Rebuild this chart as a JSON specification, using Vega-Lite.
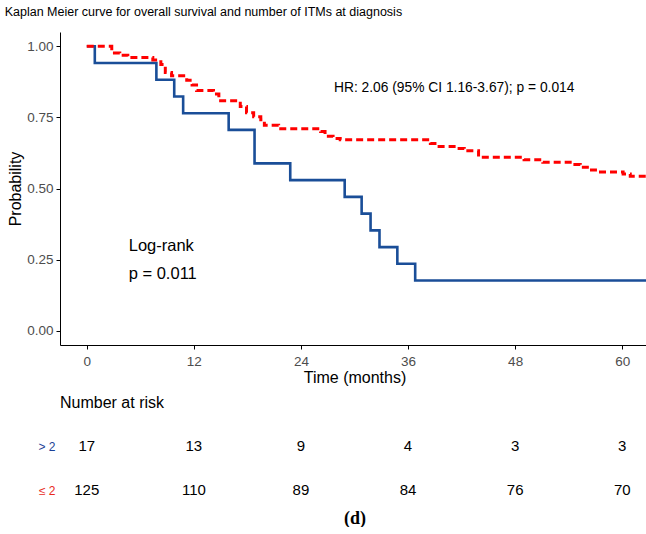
{
  "$schema": "https://vega.github.io/schema/vega-lite/v6.json",
  "background": "white",
  "padding": {"left": 4, "top": 5, "right": 0, "bottom": 0},
  "config": {
    "font": "Liberation Sans",
    "view": {"stroke": null},
    "concat": {"spacing": 79}
  },
  "title": {
    "text": "Kaplan Meier curve for overall survival and number of ITMs at diagnosis",
    "anchor": "start",
    "frame": "bounds",
    "fontSize": 12.5,
    "fontWeight": "normal",
    "color": "black",
    "offset": 14,
    "dx": -3
  },
  "datasets": {
    "km_gt2": [
      {"time": 0, "surv": 1.0},
      {"time": 0.9, "surv": 0.9412},
      {"time": 7.8, "surv": 0.8824},
      {"time": 9.8, "surv": 0.8235},
      {"time": 10.8, "surv": 0.7647},
      {"time": 15.9, "surv": 0.7059},
      {"time": 18.8, "surv": 0.5882},
      {"time": 22.8, "surv": 0.5294},
      {"time": 28.9, "surv": 0.4706},
      {"time": 30.8, "surv": 0.4118},
      {"time": 31.8, "surv": 0.3529},
      {"time": 32.8, "surv": 0.2941},
      {"time": 34.8, "surv": 0.2353},
      {"time": 36.8, "surv": 0.1765},
      {"time": 64, "surv": 0.1765}
    ],
    "km_le2": [
      {"time": 0, "surv": 1.0},
      {"time": 2.8, "surv": 0.976},
      {"time": 3.7, "surv": 0.968},
      {"time": 4.6, "surv": 0.96},
      {"time": 7.4, "surv": 0.952},
      {"time": 8.3, "surv": 0.936},
      {"time": 8.8, "surv": 0.908},
      {"time": 9.5, "surv": 0.896},
      {"time": 11.2, "surv": 0.88},
      {"time": 11.8, "surv": 0.864},
      {"time": 12.3, "surv": 0.844},
      {"time": 14.2, "surv": 0.832},
      {"time": 14.8, "surv": 0.808},
      {"time": 17.2, "surv": 0.788},
      {"time": 17.9, "surv": 0.766},
      {"time": 18.7, "surv": 0.752},
      {"time": 19.5, "surv": 0.742},
      {"time": 19.9, "surv": 0.722},
      {"time": 21.5, "surv": 0.71},
      {"time": 26.2, "surv": 0.7},
      {"time": 26.7, "surv": 0.684},
      {"time": 27.6, "surv": 0.676},
      {"time": 28.4, "surv": 0.671},
      {"time": 38.5, "surv": 0.658},
      {"time": 39.3, "surv": 0.648},
      {"time": 41.5, "surv": 0.641},
      {"time": 42.3, "surv": 0.633},
      {"time": 43.9, "surv": 0.61},
      {"time": 49.0, "surv": 0.601},
      {"time": 51.1, "surv": 0.592},
      {"time": 54.4, "surv": 0.584},
      {"time": 55.3, "surv": 0.575},
      {"time": 56.3, "surv": 0.565},
      {"time": 57.0, "surv": 0.558},
      {"time": 60.1, "surv": 0.551},
      {"time": 60.9, "surv": 0.543},
      {"time": 64, "surv": 0.543}
    ],
    "at_risk": [
      {"group": "> 2", "time": 0, "n": 17},
      {"group": "> 2", "time": 12, "n": 13},
      {"group": "> 2", "time": 24, "n": 9},
      {"group": "> 2", "time": 36, "n": 4},
      {"group": "> 2", "time": 48, "n": 3},
      {"group": "> 2", "time": 60, "n": 3},
      {"group": "≤ 2", "time": 0, "n": 125},
      {"group": "≤ 2", "time": 12, "n": 110},
      {"group": "≤ 2", "time": 24, "n": 89},
      {"group": "≤ 2", "time": 36, "n": 84},
      {"group": "≤ 2", "time": 48, "n": 76},
      {"group": "≤ 2", "time": 60, "n": 70}
    ],
    "notes": [
      {"time": 27.7, "surv": 0.852, "label": "HR: 2.06 (95% CI 1.16-3.67); p = 0.014", "kind": "hr"},
      {"time": 4.7, "surv": 0.298, "label": "Log-rank", "kind": "test"},
      {"time": 4.7, "surv": 0.2, "label": "p = 0.011", "kind": "test"}
    ]
  },
  "vconcat": [
    {
      "width": 589,
      "height": 313,
      "layer": [
        {
          "data": {"name": "km_gt2"},
          "mark": {"type": "line", "interpolate": "step-after", "clip": true, "color": "#1A4E98", "strokeWidth": 2.6},
          "encoding": {
            "x": {
              "field": "time", "type": "quantitative",
              "scale": {"domain": [-3, 63], "nice": false, "zero": false},
              "axis": {
                "values": [0, 12, 24, 36, 48, 60],
                "grid": false,
                "domainColor": "black",
                "tickColor": "black",
                "tickSize": 4,
                "labelColor": "#4D4D4D",
                "labelFontSize": 13.5,
                "labelPadding": 5,
                "title": "Time (months)",
                "titleFontSize": 16,
                "titleFontWeight": "normal",
                "titleColor": "black",
                "titlePadding": 2
              }
            },
            "y": {
              "field": "surv", "type": "quantitative",
              "scale": {"domain": [-0.05, 1.05], "nice": false, "zero": false},
              "axis": {
                "values": [0, 0.25, 0.5, 0.75, 1],
                "format": ".2f",
                "grid": false,
                "domainColor": "black",
                "tickColor": "black",
                "tickSize": 4,
                "labelColor": "#4D4D4D",
                "labelFontSize": 13.5,
                "labelPadding": 3,
                "title": "Probability",
                "titleFontSize": 16,
                "titleFontWeight": "normal",
                "titleColor": "black",
                "titlePadding": 3
              }
            }
          }
        },
        {
          "data": {"name": "km_le2"},
          "mark": {"type": "line", "interpolate": "step-after", "clip": true, "color": "#FF0000", "strokeWidth": 3, "strokeDash": [7, 4]},
          "encoding": {
            "x": {"field": "time", "type": "quantitative"},
            "y": {"field": "surv", "type": "quantitative"}
          }
        },
        {
          "data": {"name": "notes"},
          "transform": [{"filter": "datum.kind === 'hr'"}],
          "mark": {"type": "text", "align": "left", "baseline": "middle", "fontSize": 13.8, "color": "black"},
          "encoding": {
            "x": {"field": "time", "type": "quantitative"},
            "y": {"field": "surv", "type": "quantitative"},
            "text": {"field": "label"}
          }
        },
        {
          "data": {"name": "notes"},
          "transform": [{"filter": "datum.kind === 'test'"}],
          "mark": {"type": "text", "align": "left", "baseline": "middle", "fontSize": 16.5, "color": "black"},
          "encoding": {
            "x": {"field": "time", "type": "quantitative"},
            "y": {"field": "surv", "type": "quantitative"},
            "text": {"field": "label"}
          }
        }
      ]
    },
    {
      "width": 589,
      "height": 88,
      "title": {
        "text": "Number at risk",
        "anchor": "start",
        "frame": "group",
        "fontSize": 16,
        "fontWeight": "normal",
        "color": "black",
        "offset": 13
      },
      "data": {"name": "at_risk"},
      "mark": {"type": "text", "fontSize": 15, "color": "black", "baseline": "middle"},
      "encoding": {
        "x": {
          "field": "time", "type": "quantitative",
          "scale": {"domain": [-3, 63], "nice": false, "zero": false},
          "axis": {
            "domain": false, "ticks": false, "labels": false, "grid": false,
            "title": "(d)",
            "titleFont": "Liberation Serif",
            "titleFontSize": 18,
            "titleFontWeight": "bold",
            "titleColor": "black",
            "titlePadding": -3
          }
        },
        "y": {
          "field": "group", "type": "nominal",
          "scale": {"type": "point", "domain": ["> 2", "≤ 2"], "padding": 0.5},
          "axis": {
            "domain": false, "ticks": false, "tickSize": 0, "grid": false,
            "title": null,
            "labelFontSize": 12,
            "labelPadding": 5,
            "labelColor": {"condition": {"test": "datum.value === '> 2'", "value": "#1A3F96"}, "value": "#E8291C"}
          }
        },
        "text": {"field": "n", "type": "quantitative"}
      }
    }
  ],
  "resolve": {"scale": {"x": "independent"}},
  "bounds": "flush"
}
